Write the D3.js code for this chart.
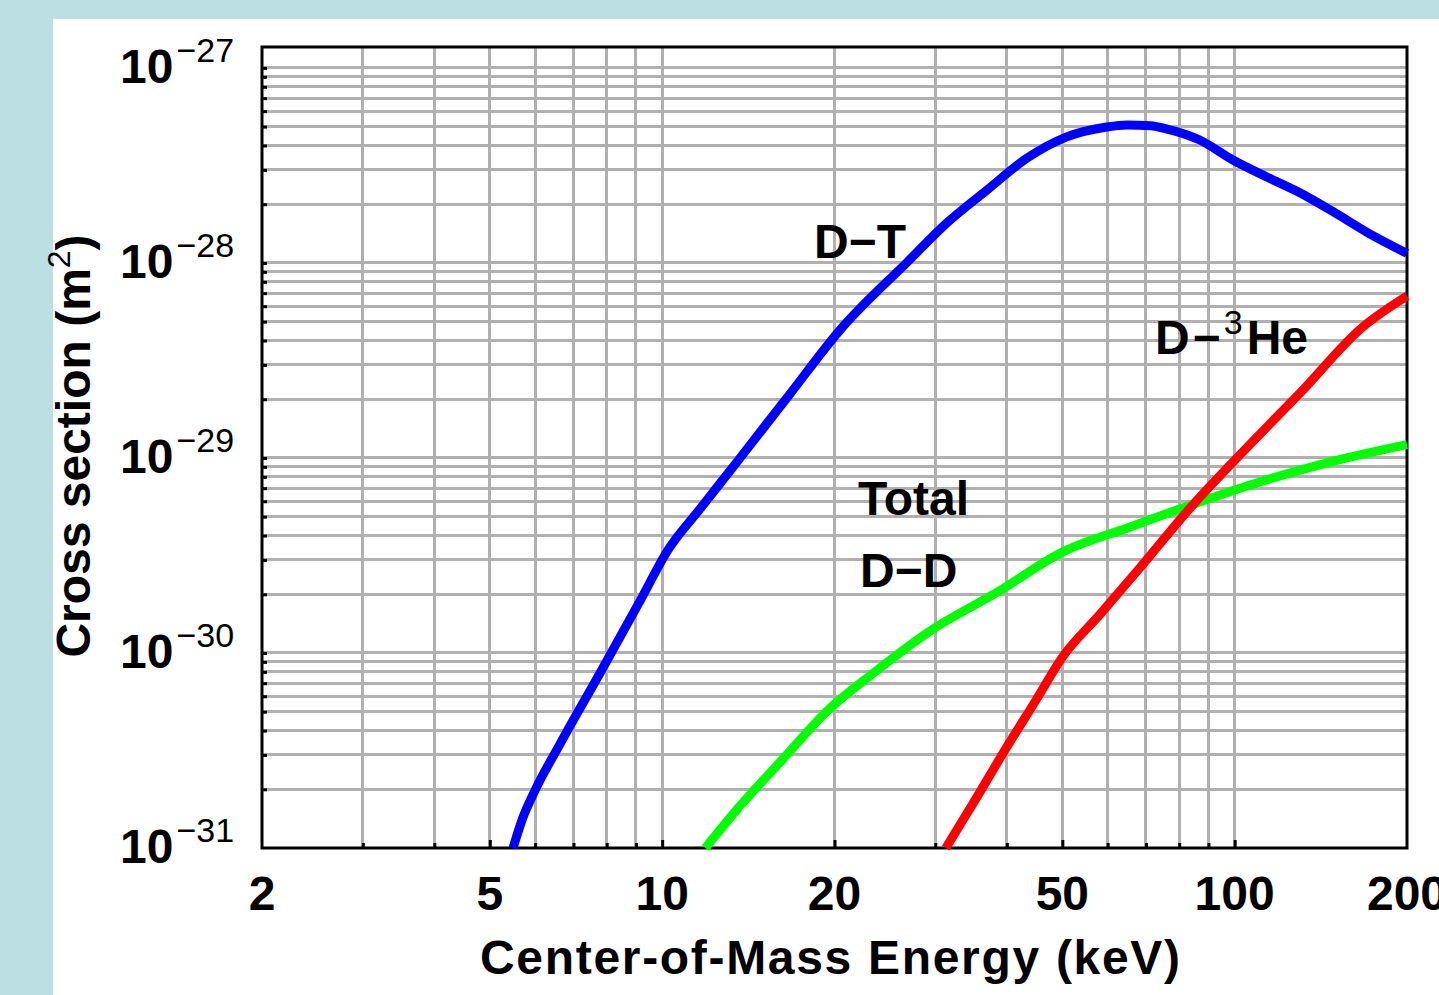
<!DOCTYPE html>
<html>
<head>
<meta charset="utf-8">
<script src="https://cdn.jsdelivr.net/npm/d3@7"></script>
<style>
	body { margin: 0; background: #bbdfe2; }
	svg { display: block; }
	text { font-family: 'Liberation Sans', Arial, sans-serif; fill: #000; }
</style>
</head>
<body>
<svg id="chart" width="1439" height="995"></svg>
<script>
// D-T (blue)
const dtEnergy = [5.49, 5.69, 6.0, 6.63, 7.79, 9.15, 10.24, 11.64, 13.68, 16.72, 20.45, 26.8, 31.4, 36.9, 43.4, 50.9, 59.8, 64.9, 71.2, 76.2, 86.9, 99.3, 113.8, 130, 148.6, 170, 200]
const dtSigma = [1.0e-31, 1.39e-31, 1.98e-31, 3.41e-31, 7.9e-31, 1.85e-30, 3.38e-30, 5.47e-30, 1.0e-29, 2.13e-29, 4.53e-29, 1.01e-28, 1.6e-28, 2.36e-28, 3.45e-28, 4.43e-28, 4.98e-28, 5.1e-28, 5.05e-28, 4.86e-28, 4.27e-28, 3.37e-28, 2.76e-28, 2.29e-28, 1.83e-28, 1.44e-28, 1.12e-28]

// total D-D (green)
const ddEnergy = [11.9, 13.5, 16.2, 19.5, 23.4, 29.3, 38.5, 50.1, 65.7, 85.9, 112, 146.7, 200]
const ddSigma = [1.0e-31, 1.57e-31, 2.83e-31, 5.1e-31, 7.9e-31, 1.29e-30, 2.05e-30, 3.3e-30, 4.43e-30, 5.88e-30, 7.62e-30, 9.53e-30, 1.17e-29]

// D-3He (red)
const dheEnergy = [31.3, 35.2, 40.0, 45.0, 49.9, 58.2, 68.3, 83.6, 102.2, 130, 167.5, 200]
const dheSigma = [1.0e-31, 1.76e-31, 3.3e-31, 5.74e-31, 9.43e-31, 1.58e-30, 2.73e-30, 5.54e-30, 1.04e-29, 2.15e-29, 4.7e-29, 6.77e-29]

const xTickLabels = [2, 5, 10, 20, 50, 100, 200]
const xGridValues = [3, 4, 5, 6, 7, 8, 9, 10, 20, 30, 40, 50, 60, 70, 80, 90, 100]
const yExponents = [-27, -28, -29, -30, -31]

const svg = d3.select('#chart')

svg.append('rect')
	.attr('x', 53).attr('y', 19)
	.attr('width', 1439 - 53).attr('height', 995 - 19)
	.attr('fill', '#fff')

let xScale = d3.scaleLog().domain([2, 200]).range([262, 1407])
let yScale = d3.scaleLog().domain([1e-31, 1.28e-27]).range([848, 47])

let yGridValues = yScale.ticks().filter(v => v > 1.01e-31)

// grid
let grid = svg.append('g').attr('id', 'grid')
	.attr('stroke', '#b0b0b0')
	.attr('stroke-width', 3)
	.attr('shape-rendering', 'crispEdges')
grid.selectAll('.vline')
	.data(xGridValues)
	.enter()
	.append('line')
	.attr('class', 'vline')
	.attr('x1', d => xScale(d)).attr('x2', d => xScale(d))
	.attr('y1', 47).attr('y2', 848)
grid.selectAll('.hline')
	.data(yGridValues)
	.enter()
	.append('line')
	.attr('class', 'hline')
	.attr('x1', 262).attr('x2', 1407)
	.attr('y1', d => yScale(d)).attr('y2', d => yScale(d))

// ticks pointing inward
let bottomAxisG = svg.append('g')
	.attr('transform', 'translate(0, 848)')
bottomAxisG.call(d3.axisBottom(xScale).tickValues(xGridValues).tickSize(-5).tickFormat(''))
bottomAxisG.select('.domain').remove()
bottomAxisG.selectAll('line').attr('stroke', '#000').attr('stroke-width', 3)
	.attr('y2', d => xTickLabels.includes(d) ? -8 : -5)

let leftAxisG = svg.append('g')
	.attr('transform', 'translate(262, 0)')
leftAxisG.call(d3.axisLeft(yScale).tickValues(yGridValues).tickSize(-5).tickFormat(''))
leftAxisG.select('.domain').remove()
leftAxisG.selectAll('line').attr('stroke', '#000').attr('stroke-width', 3)

// frame
svg.append('rect')
	.attr('x', 262).attr('y', 47)
	.attr('width', 1407 - 262).attr('height', 848 - 47)
	.attr('fill', 'none')
	.attr('stroke', '#000')
	.attr('stroke-width', 3)

// tick labels
svg.append('g').selectAll('text')
	.data(xTickLabels)
	.enter()
	.append('text')
	.attr('x', d => xScale(d))
	.attr('y', 910)
	.attr('text-anchor', 'middle')
	.attr('font-size', 48)
	.attr('font-weight', 'bold')
	.text(d => d)

let yLabels = svg.append('g').selectAll('text')
	.data(yExponents)
	.enter()
	.append('text')
	.attr('x', 120)
	.attr('y', d => yScale(Math.pow(10, d)) + 15)
yLabels.append('tspan')
	.attr('font-size', 48)
	.attr('font-weight', 'bold')
	.text('10')
yLabels.append('tspan')
	.attr('font-size', 34)
	.attr('dx', 3)
	.attr('dy', -21)
	.text(d => '\u2212' + Math.abs(d))

// axis titles
svg.append('text')
	.attr('x', 480)
	.attr('y', 974)
	.attr('font-size', 48)
	.attr('font-weight', 'bold')
	.attr('textLength', 700)
	.attr('lengthAdjust', 'spacing')
	.text('Center-of-Mass Energy (keV)')

let yTitle = svg.append('text')
	.attr('transform', 'translate(90, 446) rotate(-90)')
	.attr('text-anchor', 'middle')
	.attr('font-size', 48)
	.attr('font-weight', 'bold')
yTitle.append('tspan').text('Cross section (m')
yTitle.append('tspan').attr('font-size', 32).attr('font-weight', 'normal').attr('dy', -20).text('2')
yTitle.append('tspan').attr('dy', 20).text(')')

// curves
let line = d3.line()
	.x(d => xScale(d[0]))
	.y(d => yScale(d[1]))
	.curve(d3.curveMonotoneX)

let series = [
	{ e: ddEnergy, s: ddSigma, color: '#00ff00' },
	{ e: dheEnergy, s: dheSigma, color: '#ff0000' },
	{ e: dtEnergy, s: dtSigma, color: '#0000ff' }
]
svg.append('g').selectAll('path')
	.data(series)
	.enter()
	.append('path')
	.attr('d', d => line(d3.zip(d.e, d.s)))
	.attr('fill', 'none')
	.attr('stroke', d => d.color)
	.attr('stroke-width', 9)

// curve labels
function label(x, y, parts) {
	let t = svg.append('text').attr('x', x).attr('y', y)
		.attr('font-size', 48).attr('font-weight', 'bold')
	parts.forEach(p => {
		let ts = t.append('tspan').text(p.text)
		if (p.dx) ts.attr('dx', p.dx)
		if (p.sup) ts.attr('font-size', 34).attr('font-weight', 'normal').attr('dy', -20)
		if (p.down) ts.attr('dy', 20)
	})
}
label(814, 258, [{ text: 'D\u2212T' }])
label(858, 515, [{ text: 'Total' }])
label(860, 587, [{ text: 'D\u2212D' }])
label(1155, 354, [{ text: 'D' }, { text: '\u2212', dx: 3 }, { text: '3', sup: true, dx: 3 }, { text: 'He', down: true, dx: 4 }])
</script>
</body>
</html>
